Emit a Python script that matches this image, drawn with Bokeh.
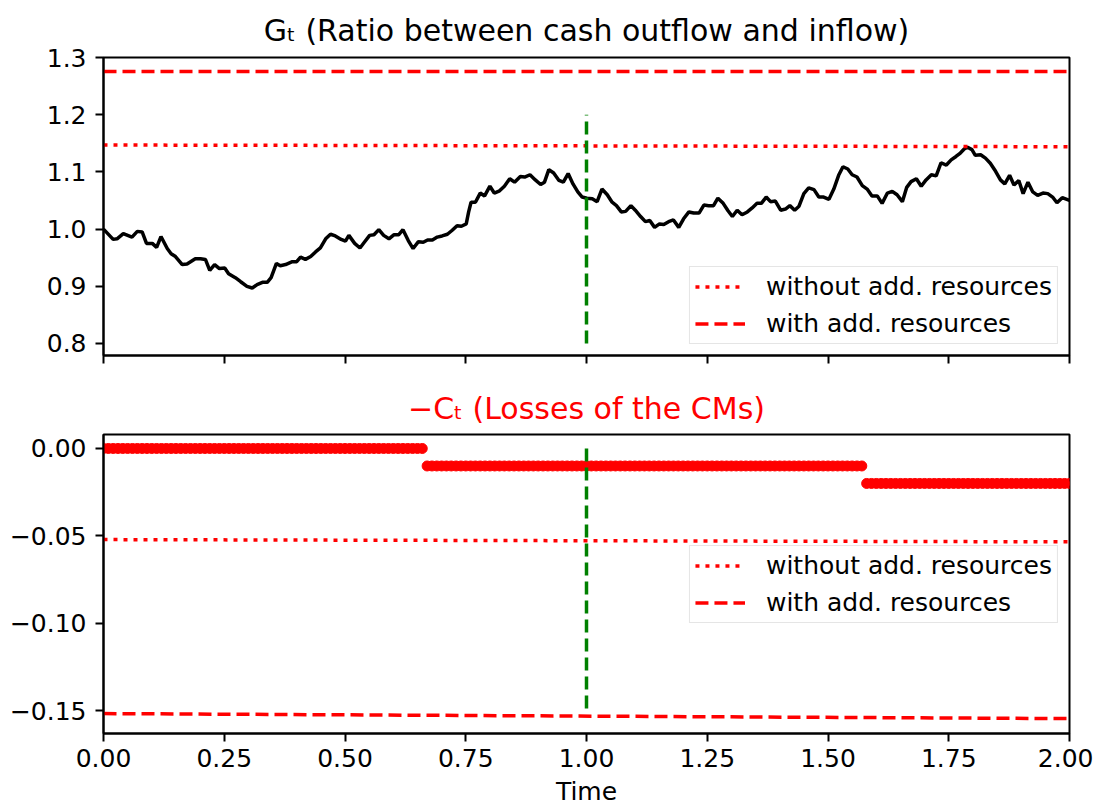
import numpy as np
from bokeh.plotting import figure
from bokeh.layouts import column
from bokeh.models import Range1d, FixedTicker, CustomJSTickFormatter, Title
from bokeh.embed import file_html
from bokeh.resources import INLINE

FONT = "DejaVu Sans"

# ---------------- data ----------------
g_time = [0.000, 0.020, 0.028, 0.041, 0.059, 0.070, 0.080, 0.089, 0.101, 0.110,
          0.119, 0.132, 0.140, 0.149, 0.163, 0.173, 0.190, 0.201, 0.211, 0.220,
          0.230, 0.240, 0.251, 0.259, 0.273, 0.284, 0.297, 0.308, 0.318, 0.329,
          0.339, 0.347, 0.358, 0.366, 0.377, 0.391, 0.400, 0.408, 0.418, 0.429,
          0.439, 0.449, 0.460, 0.470, 0.480, 0.492, 0.501, 0.508, 0.520, 0.531,
          0.540, 0.551, 0.560, 0.570, 0.580, 0.591, 0.601, 0.611, 0.620, 0.631,
          0.641, 0.652, 0.662, 0.671, 0.681, 0.691, 0.701, 0.712, 0.722, 0.732,
          0.741, 0.751, 0.756, 0.761, 0.770, 0.780, 0.789, 0.800, 0.809, 0.820,
          0.830, 0.841, 0.851, 0.863, 0.872, 0.883, 0.894, 0.905, 0.913, 0.922,
          0.932, 0.943, 0.952, 0.962, 0.972, 0.982, 0.991, 1.001, 1.012, 1.022,
          1.032, 1.043, 1.053, 1.062, 1.072, 1.081, 1.092, 1.101, 1.112, 1.122,
          1.131, 1.141, 1.151, 1.160, 1.170, 1.180, 1.191, 1.201, 1.212, 1.222,
          1.233, 1.243, 1.253, 1.263, 1.272, 1.283, 1.293, 1.302, 1.312, 1.322,
          1.333, 1.343, 1.353, 1.362, 1.372, 1.381, 1.391, 1.402, 1.412, 1.421,
          1.431, 1.440, 1.450, 1.460, 1.471, 1.481, 1.491, 1.502, 1.512, 1.522,
          1.531, 1.541, 1.550, 1.560, 1.571, 1.581, 1.591, 1.602, 1.612, 1.623,
          1.633, 1.643, 1.654, 1.663, 1.672, 1.683, 1.693, 1.703, 1.714, 1.724,
          1.734, 1.745, 1.755, 1.765, 1.774, 1.782, 1.789, 1.798, 1.805, 1.816,
          1.826, 1.836, 1.847, 1.857, 1.866, 1.876, 1.885, 1.895, 1.904, 1.914,
          1.924, 1.934, 1.945, 1.955, 1.965, 1.974, 1.985, 2.000]
g_value = [1.000, 0.982, 0.983, 0.992, 0.986, 0.996, 0.995, 0.975, 0.975, 0.968,
           0.987, 0.966, 0.957, 0.952, 0.938, 0.939, 0.948, 0.948, 0.947, 0.928,
           0.938, 0.931, 0.932, 0.922, 0.915, 0.908, 0.900, 0.897, 0.903, 0.907,
           0.907, 0.915, 0.940, 0.936, 0.938, 0.943, 0.943, 0.951, 0.947, 0.952,
           0.960, 0.967, 0.983, 0.991, 0.988, 0.982, 0.979, 0.989, 0.975, 0.967,
           0.977, 0.989, 0.990, 0.999, 0.989, 0.983, 0.990, 0.990, 0.999, 0.980,
           0.966, 0.978, 0.977, 0.981, 0.981, 0.986, 0.988, 0.991, 0.998, 1.006,
           1.005, 1.009, 1.030, 1.047, 1.047, 1.063, 1.058, 1.075, 1.063, 1.067,
           1.075, 1.088, 1.082, 1.092, 1.091, 1.095, 1.086, 1.078, 1.082, 1.104,
           1.098, 1.085, 1.082, 1.097, 1.079, 1.065, 1.056, 1.054, 1.053, 1.048,
           1.070, 1.060, 1.047, 1.041, 1.030, 1.031, 1.041, 1.033, 1.022, 1.013,
           1.015, 1.003, 1.009, 1.008, 1.013, 1.016, 1.003, 1.018, 1.030, 1.028,
           1.028, 1.042, 1.041, 1.041, 1.054, 1.045, 1.032, 1.022, 1.033, 1.025,
           1.030, 1.037, 1.045, 1.045, 1.056, 1.048, 1.049, 1.033, 1.035, 1.041,
           1.033, 1.040, 1.062, 1.072, 1.069, 1.056, 1.056, 1.052, 1.070, 1.094,
           1.109, 1.105, 1.095, 1.091, 1.076, 1.070, 1.058, 1.058, 1.045, 1.063,
           1.066, 1.060, 1.048, 1.073, 1.083, 1.088, 1.075, 1.086, 1.095, 1.093,
           1.116, 1.112, 1.121, 1.127, 1.133, 1.140, 1.143, 1.139, 1.129, 1.130,
           1.124, 1.115, 1.101, 1.086, 1.079, 1.094, 1.077, 1.085, 1.062, 1.082,
           1.065, 1.059, 1.063, 1.062, 1.056, 1.046, 1.055, 1.050]

# losses of the CMs: piecewise-constant levels on the simulation time grid
loss_level = [0.00, -0.01, -0.02]
loss_from = [0.00, 0.67, 1.58]
loss_to = [0.66, 1.57, 2.00]
time_step = 0.01

# threshold lines (start / end values)
thr_time = [0.0, 2.0]
g_without = [1.147, 1.144]
g_with = [1.2755, 1.2755]
c_without = [-0.0521, -0.0534]
c_with = [-0.1516, -0.1545]

# vertical marker at t = 1
v_time = [1.0, 1.0]
v_top = [0.8, 1.2]
v_bottom = [0.0, -0.15]

x_ticks = [0.0, 0.25, 0.5, 0.75, 1.0, 1.25, 1.5, 1.75, 2.0]
g_ticks = [0.8, 0.9, 1.0, 1.1, 1.2, 1.3]
c_ticks = [0.0, -0.05, -0.10, -0.15]

# expand the loss levels on the time grid
loss_time = []
loss_value = []
for lev, a, b in zip(loss_level, loss_from, loss_to):
    n = int(round((b - a) / time_step)) + 1
    for k in range(n):
        loss_time.append(round(a + k * time_step, 4))
        loss_value.append(lev)

RED = "#ff0000"
GREEN = "#008000"
DOT = "4 6"
DASH = "13 6"
LBL = "25px"
TTL = "30px"


def style(p, yfmt):
    p.outline_line_color = "black"
    p.outline_line_width = 2
    p.outline_line_alpha = 1
    p.grid.visible = False
    p.background_fill_color = "white"
    p.border_fill_color = "white"
    for ax in (p.xaxis[0], p.yaxis[0]):
        ax.major_tick_out = 8
        ax.major_tick_in = 0
        ax.minor_tick_out = 0
        ax.minor_tick_in = 0
        ax.major_tick_line_width = 2
        ax.axis_line_width = 2
        ax.major_label_text_font = FONT
        ax.major_label_text_font_size = LBL
        ax.major_label_text_color = "black"
        ax.major_label_standoff = 9
    p.xaxis.ticker = FixedTicker(ticks=x_ticks)
    p.xaxis.formatter = CustomJSTickFormatter(code="return tick.toFixed(2);")
    p.yaxis.formatter = CustomJSTickFormatter(
        code="return tick.toFixed(%d).replace('-', '\u2212');" % yfmt)


def style_legend(p, loc):
    lg = p.legend[0]
    lg.location = loc
    lg.label_text_font = FONT
    lg.label_text_font_size = LBL
    lg.label_text_color = "black"
    lg.glyph_width = 50
    lg.glyph_height = 29
    lg.label_height = 29
    lg.label_standoff = 21
    lg.spacing = 8
    lg.padding = 5
    lg.margin = 11
    lg.border_line_color = "#cccccc"
    lg.border_line_width = 1.5
    lg.background_fill_alpha = 0.8


# ---------------- top ----------------
p1 = figure(width=1093, height=380, x_range=Range1d(0, 2), y_range=Range1d(0.779, 1.30),
            output_backend="svg", toolbar_location=None,
            min_border_left=103, min_border_right=24, min_border_top=57, min_border_bottom=25)
p1.title = Title(text="G\u209c (Ratio between cash outflow and inflow)", align="center",
                 text_font=FONT, text_font_size=TTL, text_font_style="normal",
                 text_color="black", standoff=19)
style(p1, 1)
p1.yaxis.ticker = FixedTicker(ticks=g_ticks)
p1.xaxis.formatter = CustomJSTickFormatter(code="return '';")
p1.xaxis.major_label_standoff = 0
p1.line(g_time, g_value, line_color="black", line_width=3.5)
p1.line(thr_time, g_without, line_color=RED, line_width=3.5, line_dash=DOT,
        legend_label="without add. resources")
p1.line(thr_time, g_with, line_color=RED, line_width=3.5, line_dash=DASH,
        legend_label="with add. resources")
p1.line(v_time, v_top, line_color=GREEN, line_width=3.5, line_dash=DASH)
style_legend(p1, "bottom_right")

# ---------------- bottom ----------------
p2 = figure(width=1093, height=428, x_range=p1.x_range, y_range=Range1d(-0.163, 0.008),
            output_backend="svg", toolbar_location=None,
            min_border_left=103, min_border_right=24, min_border_top=53, min_border_bottom=72)
p2.title = Title(text="\u2212C\u209c (Losses of the CMs)", align="center",
                 text_font=FONT, text_font_size=TTL, text_font_style="normal",
                 text_color=RED, standoff=17)
style(p2, 2)
p2.yaxis.ticker = FixedTicker(ticks=c_ticks)
p2.xaxis.major_label_standoff = 7
p2.xaxis.axis_label = "Time"
p2.xaxis.axis_label_text_font = FONT
p2.xaxis.axis_label_text_font_size = LBL
p2.xaxis.axis_label_text_font_style = "normal"
p2.xaxis.axis_label_text_color = "black"
p2.xaxis.axis_label_standoff = 7
p2.scatter(loss_time, loss_value, marker="circle", size=10, fill_color=RED, line_color=RED)
p2.line(thr_time, c_without, line_color=RED, line_width=3.5, line_dash=DOT,
        legend_label="without add. resources")
p2.line(thr_time, c_with, line_color=RED, line_width=3.5, line_dash=DASH,
        legend_label="with add. resources")
p2.line(v_time, v_bottom, line_color=GREEN, line_width=3.5, line_dash=DASH)
style_legend(p2, "right")

layout = column(p1, p2, spacing=0)
open("out.html", "w").write(file_html(layout, INLINE))
